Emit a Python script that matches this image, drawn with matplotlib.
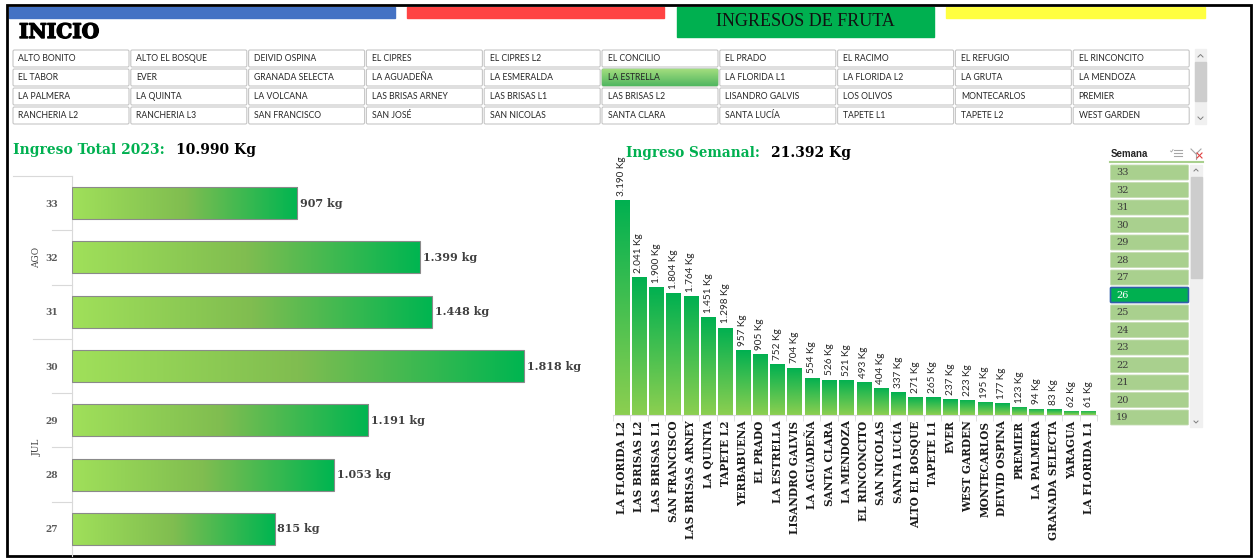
import numpy as np
import matplotlib
matplotlib.use('Agg')
import matplotlib.pyplot as plt
import matplotlib.patheffects as pe
from matplotlib.colors import LinearSegmentedColormap
from matplotlib.patches import Rectangle, FancyBboxPatch

W, H = 1255, 559

# --- data -------------------------------------------------------------
button_names = [
    'ALTO BONITO', 'ALTO EL BOSQUE', 'DEIVID OSPINA', 'EL CIPRES', 'EL CIPRES L2',
    'EL CONCILIO', 'EL PRADO', 'EL RACIMO', 'EL REFUGIO', 'EL RINCONCITO',
    'EL TABOR', 'EVER', 'GRANADA SELECTA', 'LA AGUADEÑA', 'LA ESMERALDA',
    'LA ESTRELLA', 'LA FLORIDA L1', 'LA FLORIDA L2', 'LA GRUTA', 'LA MENDOZA',
    'LA PALMERA', 'LA QUINTA', 'LA VOLCANA', 'LAS BRISAS ARNEY', 'LAS BRISAS L1',
    'LAS BRISAS L2', 'LISANDRO GALVIS', 'LOS OLIVOS', 'MONTECARLOS', 'PREMIER',
    'RANCHERIA L2', 'RANCHERIA L3', 'SAN FRANCISCO', 'SAN JOSÉ', 'SAN NICOLAS',
    'SANTA CLARA', 'SANTA LUCÍA', 'TAPETE L1', 'TAPETE L2', 'WEST GARDEN',
]
selected_button = 'LA ESTRELLA'

total_weeks = [33, 32, 31, 30, 29, 28, 27]
total_kg = [907, 1399, 1448, 1818, 1191, 1053, 815]
month_labels = ['AGO', 'JUL']
month_first = [0, 3]      # index in total_weeks where each month starts
month_last = [2, 6]
total_year = 10990

farms = ['LA FLORIDA L2', 'LAS BRISAS L2', 'LAS BRISAS L1', 'SAN FRANCISCO',
         'LAS BRISAS ARNEY', 'LA QUINTA', 'TAPETE L2', 'YERBABUENA', 'EL PRADO',
         'LA ESTRELLA', 'LISANDRO GALVIS', 'LA AGUADEÑA', 'SANTA CLARA',
         'LA MENDOZA', 'EL RINCONCITO', 'SAN NICOLAS', 'SANTA LUCÍA',
         'ALTO EL BOSQUE', 'TAPETE L1', 'EVER', 'WEST GARDEN', 'MONTECARLOS',
         'DEIVID OSPINA', 'PREMIER', 'LA PALMERA', 'GRANADA SELECTA', 'YARAGUA',
         'LA FLORIDA L1']
farm_kg = [3190, 2041, 1900, 1804, 1764, 1451, 1298, 957, 905, 752, 704, 554,
           526, 521, 493, 404, 337, 271, 265, 237, 223, 195, 177, 123, 94, 83,
           62, 61]
week_total = 21392

slicer_weeks = [33, 32, 31, 30, 29, 28, 27, 26, 25, 24, 23, 22, 21, 20, 19]
selected_week = 26


def kg(v):
    return f'{v:,}'.replace(',', '.')


SERIF = 'DejaVu Serif'
GREEN = '#00b050'

fig = plt.figure(figsize=(W / 100, H / 100), dpi=100)
bg = fig.add_axes([0, 0, 1, 1], zorder=0)
bg.set_xlim(0, W)
bg.set_ylim(H, 0)
bg.axis('off')


def px_axes(x0, y0, x1, y1):
    a = fig.add_axes([x0 / W, 1 - y1 / H, (x1 - x0) / W, (y1 - y0) / H], zorder=2)
    a.patch.set_alpha(0)
    return a


# --- header ------------------------------------------------------------
bg.add_patch(Rectangle((7, 5), 1244, 551, fill=False, lw=2, ec='black', zorder=10))
bg.add_patch(Rectangle((9, 7), 386, 11, color='#4472c4'))
bg.add_patch(Rectangle((407, 7), 257, 11, color='#ff4343'))
bg.add_patch(Rectangle((677, 7), 257, 30, color=GREEN))
bg.add_patch(Rectangle((946, 7), 259, 11, color='#ffff40'))
bg.text(805, 22, 'INGRESOS DE FRUTA', ha='center', va='center',
        fontfamily='Liberation Serif', fontsize=13, color='#111111')
bg.text(19, 32, 'INICIO', ha='left', va='center', fontfamily=SERIF,
        fontweight='bold', fontsize=14.5, color='black',
        path_effects=[pe.withStroke(linewidth=1.0, foreground='black')])

# --- farm buttons ---------------------------------------------------------
hgrad = np.linspace(0, 1, 256).reshape(1, -1)
vgrad = np.linspace(0, 1, 256).reshape(-1, 1)
btn_cmap = LinearSegmentedColormap.from_list('btn', ['#4fb660', '#a3dd7e'])
for i, name in enumerate(button_names):
    r, c = divmod(i, 10)
    x0 = 13 + c * 117.8
    y0 = 50 + r * 19
    box = FancyBboxPatch((x0, y0), 116, 17, boxstyle='round,pad=0,rounding_size=1.5',
                         fc='white', ec='#c6c6c6', lw=0.8, zorder=2)
    bg.add_patch(box)
    if name == selected_button:
        box.set_edgecolor('#8db88a')
        im = bg.imshow(vgrad, extent=[x0, x0 + 116, y0 + 17, y0], cmap=btn_cmap,
                       aspect='auto', zorder=2.5, origin='lower')
        im.set_clip_path(box)
    bg.text(x0 + 5.5, y0 + 8.7, name, ha='left', va='center', fontfamily='Lato',
            fontsize=6.2, color='#262626', zorder=3)

bg.add_patch(Rectangle((1195, 49), 11, 75, color='#f0f0f0'))
bg.add_patch(Rectangle((1195, 62), 11, 39, color='#cdcdcd'))
bg.plot([1198, 1200.5, 1203], [57, 54.5, 57], color='#7f7f7f', lw=0.7)
bg.plot([1198, 1200.5, 1203], [117, 119.5, 117], color='#7f7f7f', lw=0.7)

# --- titles -------------------------------------------------------------
bg.text(13, 150, 'Ingreso Total 2023:', ha='left', va='center', fontfamily=SERIF,
        fontweight='bold', fontsize=10, color=GREEN)
bg.text(176, 150, kg(total_year) + ' Kg', ha='left', va='center', fontfamily=SERIF,
        fontweight='bold', fontsize=10, color='black')
bg.text(626, 153, 'Ingreso Semanal:', ha='left', va='center', fontfamily=SERIF,
        fontweight='bold', fontsize=9.8, color=GREEN)
bg.text(771, 153, kg(week_total) + ' Kg', ha='left', va='center', fontfamily=SERIF,
        fontweight='bold', fontsize=10, color='black')

# --- left chart: weekly totals ---------------------------------------------
h_cmap = LinearSegmentedColormap.from_list('h', ['#a0e05a', '#80bd50', '#00b551'])
axL = px_axes(72, 176, 600, 556)
ypos = np.arange(len(total_weeks))
bars = axL.barh(ypos, total_kg, height=0.59, fc='none', ec='#8a8a8a', lw=0.8, zorder=3)
for b in bars:
    im = axL.imshow(hgrad, extent=[b.get_x(), b.get_x() + b.get_width(),
                                   b.get_y() + b.get_height(), b.get_y()],
                    aspect='auto', cmap=h_cmap, zorder=2)
    im.set_clip_path(b)
for y, v in zip(ypos, total_kg):
    axL.annotate(kg(v) + ' kg', (v, y), xytext=(2, 0), textcoords='offset points',
                 ha='left', va='center', fontfamily=SERIF, fontweight='bold',
                 fontsize=8, color='#404040', annotation_clip=False)
axL.set_xlim(0, 2124)
axL.set_ylim(len(total_weeks) - 0.5, -0.5)
axL.set_xticks([])
axL.set_yticks(ypos)
axL.set_yticklabels([str(w) for w in total_weeks], fontfamily=SERIF,
                    fontweight='bold', fontsize=6.5, color='#595959')
axL.tick_params(axis='y', length=0, pad=10)
for s in ['top', 'right', 'bottom']:
    axL.spines[s].set_visible(False)
axL.spines['left'].set_color('#d9d9d9')

trans = axL.get_yaxis_transform()
ax_w = 528.0
for label, a, b in zip(month_labels, month_first, month_last):
    axL.text(-35 / ax_w, (a + b) / 2, label, rotation=90, ha='center', va='center',
             transform=trans, fontfamily=SERIF, fontsize=6.5, color='#404040',
             clip_on=False)
for k in range(len(total_weeks)):
    if k == 0:
        x0 = -59 / ax_w
    elif k in month_first:
        x0 = -39 / ax_w
    else:
        x0 = -20 / ax_w
    axL.plot([x0, 0], [k - 0.5, k - 0.5], transform=trans, color='#d9d9d9',
             lw=0.8, clip_on=False)

# --- middle chart: farms of the selected week --------------------------------
v_cmap = LinearSegmentedColormap.from_list('v', ['#8ccf50', '#00b050'])
axM = px_axes(613, 160, 1097, 415)
xpos = np.arange(len(farms))
bars = axM.bar(xpos, farm_kg, width=0.82, fc='none', ec='none', zorder=3)
for b in bars:
    im = axM.imshow(vgrad, extent=[b.get_x(), b.get_x() + b.get_width(),
                                   0, b.get_height()],
                    aspect='auto', cmap=v_cmap, origin='lower', zorder=2)
    im.set_clip_path(b)
for x, v in zip(xpos, farm_kg):
    axM.annotate(kg(v) + ' Kg', (x, v), xytext=(0, 3), textcoords='offset points',
                 rotation=90, ha='center', va='bottom', fontfamily='Lato',
                 fontsize=7.2, color='#262626', annotation_clip=False)
axM.set_xlim(-0.5, len(farms) - 0.5)
axM.set_ylim(0, 3783)
axM.set_yticks([])
axM.set_xticks(xpos)
axM.set_xticklabels(farms, rotation=90, fontfamily=SERIF, fontweight='bold',
                    fontsize=7.6, color='#1a1a1a', va='top')
axM.set_xticks(np.arange(-0.5, len(farms)), minor=True)
axM.tick_params(axis='x', which='major', length=0, pad=4)
axM.tick_params(axis='x', which='minor', length=4, color='#d9d9d9')
for s in ['top', 'right', 'left']:
    axM.spines[s].set_visible(False)
axM.spines['bottom'].set_color('#d9d9d9')

# --- slicer "Semana" --------------------------------------------------------
bg.text(1111, 154, 'Semana', ha='left', va='center', fontfamily='Liberation Sans',
        fontweight='bold', fontsize=7, color='#262626')
for k in range(3):
    bg.plot([1174, 1182], [150 + k * 3, 150 + k * 3], color='#a6a6a6', lw=0.8)
bg.plot([1170.5, 1171.5, 1173], [151, 152, 149.5], color='#a6a6a6', lw=0.6)
bg.plot([1191, 1196, 1201], [149, 154, 149], color='#a6a6a6', lw=0.8)
bg.plot([1196, 1196], [154, 159], color='#a6a6a6', lw=0.8)
bg.plot([1197, 1202], [153, 158], color='#e04040', lw=0.8)
bg.plot([1197, 1202], [158, 153], color='#e04040', lw=0.8)
bg.plot([1110, 1203], [161.5, 161.5], color='#a9d08e', lw=1.5)

for i, wk in enumerate(slicer_weeks):
    y0 = 165 + i * 17.5
    sel = wk == selected_week
    bg.add_patch(FancyBboxPatch((1110.5, y0), 78, 15, boxstyle='round,pad=0,rounding_size=1',
                                fc=GREEN if sel else '#a9d08e',
                                ec='#2f5fa8' if sel else '#c5dcb3',
                                lw=1.2 if sel else 0.6))
    bg.text(1116, y0 + 7.8, str(wk), ha='left', va='center', fontfamily=SERIF,
            fontsize=7, color='white' if sel else '#3a3a3a')

bg.add_patch(Rectangle((1190, 165), 12, 262, color='#f0f0f0'))
bg.add_patch(Rectangle((1191, 177), 11, 101, color='#cdcdcd'))
bg.plot([1194, 1196, 1198], [171, 169, 171], color='#7f7f7f', lw=0.7)
bg.plot([1194, 1196, 1198], [421, 423, 421], color='#7f7f7f', lw=0.7)

fig.savefig('out.png', dpi=100)
